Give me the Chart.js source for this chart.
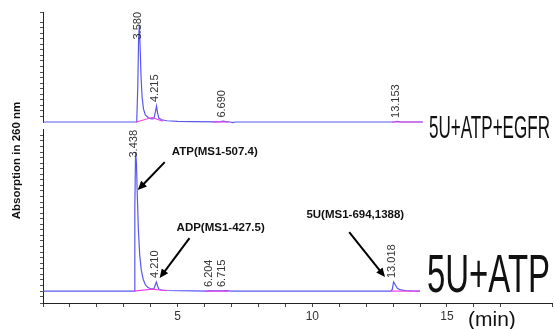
<!DOCTYPE html>
<html>
<head>
<meta charset="utf-8">
<script src="https://cdn.jsdelivr.net/npm/chart.js@4.4.0/dist/chart.umd.min.js"></script>
<style>
html, body { margin: 0; padding: 0; background: #fff; }
</style>
</head>
<body>
<canvas id="myChart" width="554" height="329"></canvas>
<script>
// retention time (min) and signal for the two runs
var egfrTime   = [0, 3.48, 3.52, 3.55, 3.58, 3.61, 3.64, 3.68, 3.73, 3.80, 3.90, 4.02, 4.12, 4.18, 4.215, 4.25, 4.30, 4.40, 4.60, 5.00, 5.60, 6.40, 6.60, 6.69, 6.78, 6.95, 7.05, 7.15, 13.05, 13.15, 13.25, 14.10];
var egfrSignal = [0, 0, 260, 600, 700, 520, 330, 180, 95, 50, 32, 22, 24, 80, 115, 70, 28, 16, 9, 5, 2, 1, 2, 6, 2, 0, -5, 0, 0, 5, 1, 0];

var atpTime   = [0, 3.38, 3.41, 3.438, 3.47, 3.50, 3.54, 3.59, 3.65, 3.72, 3.80, 3.90, 4.02, 4.12, 4.17, 4.21, 4.25, 4.30, 4.40, 4.60, 5.00, 5.60, 6.10, 6.20, 6.30, 6.70, 6.80, 7.00, 12.92, 12.97, 13.018, 13.08, 13.15, 13.25, 13.45, 13.70, 14.00];
var atpSignal = [0, 0, 600, 1000, 920, 700, 450, 260, 150, 85, 45, 25, 15, 16, 45, 65, 40, 14, 7, 4, 2, 1, 0, 3, 1, 1, 3, 0, 0, 12, 65, 45, 22, 10, 4, 1, 0];

// integration baselines (pink), null = break
var egfrBaseTime   = [3.46, 4.05, 4.45, 4.46, 6.30, 6.90, 6.91, 12.95, 14.10];
var egfrBaseSignal = [0, 32, 6, null, 1, 0, null, 0, 0];
var atpBaseTime    = [3.38, 4.05, 4.60, 4.61, 6.00, 6.90, 6.91, 12.90, 14.00];
var atpBaseSignal  = [0, 14, 2, null, 0, 0, null, 0, 0];

// peak labels
var egfrPeaks   = [3.580, 4.215, 6.690, 13.153];
var egfrHeights = [700, 115, 3, 0];
var atpPeaks    = [3.438, 4.210, 6.204, 6.715, 13.018];
var atpHeights  = [1000, 65, 0, 0, 65];

var xTickLabels = [5, 10, 15];

function pts(t, s) {
  return t.map(function (v, i) { return { x: v, y: s[i] }; });
}

var gap = 4;

var notes = {
  id: 'notes',
  afterDraw: function (chart) {
    var c = chart.ctx;
    var xs = chart.scales.x, yt = chart.scales.yTop, yb = chart.scales.y;

    // gap between the two panels on the left axis
    c.save();
    c.fillStyle = '#fff';
    c.fillRect(xs.left - 6, yt.bottom - gap + 1, 8, gap * 2 - 2);
    c.restore();

    function peakLabels(times, heights, ys, topLimit) {
      c.save();
      c.font = '11px "Liberation Sans", Arial, sans-serif';
      c.fillStyle = '#333';
      times.forEach(function (t, i) {
        var txt = t.toFixed(3);
        var w = c.measureText(txt).width;
        var px = xs.getPixelForValue(t) - 1.5;
        var bottom = ys.getPixelForValue(heights[i]) - 4;
        if (bottom - w < topLimit) bottom = topLimit + w;
        c.save();
        c.translate(px, bottom);
        c.rotate(-Math.PI / 2);
        c.textAlign = 'left';
        c.textBaseline = 'middle';
        c.fillText(txt, 0, 0);
        c.restore();
      });
      c.restore();
    }
    peakLabels(egfrPeaks, egfrHeights, yt, yt.top);
    peakLabels(atpPeaks, atpHeights, yb, yb.top + gap);

    function arrow(x1, y1, x2, y2) {
      var a = xs.getPixelForValue(x1), b = yb.getPixelForValue(y1);
      var e = xs.getPixelForValue(x2), f = yb.getPixelForValue(y2);
      var ang = Math.atan2(f - b, e - a);
      c.save();
      c.strokeStyle = '#000';
      c.fillStyle = '#000';
      c.lineWidth = 2;
      c.beginPath();
      c.moveTo(a, b);
      c.lineTo(e - 6 * Math.cos(ang), f - 6 * Math.sin(ang));
      c.stroke();
      c.beginPath();
      c.moveTo(e, f);
      c.lineTo(e - 9 * Math.cos(ang) + 4 * Math.sin(ang), f - 9 * Math.sin(ang) - 4 * Math.cos(ang));
      c.lineTo(e - 9 * Math.cos(ang) - 4 * Math.sin(ang), f - 9 * Math.sin(ang) + 4 * Math.cos(ang));
      c.closePath();
      c.fill();
      c.restore();
    }

    function note(txt, x, y) {
      c.save();
      c.font = 'bold 11.5px "Liberation Sans", Arial, sans-serif';
      c.fillStyle = '#111';
      c.textAlign = 'left';
      c.textBaseline = 'middle';
      c.fillText(txt, xs.getPixelForValue(x), yb.getPixelForValue(y));
      c.restore();
    }

    note('ATP(MS1-507.4)', 4.78, 1000);
    arrow(4.52, 927, 3.52, 726);
    note('ADP(MS1-427.5)', 4.96, 453);
    arrow(5.44, 381, 4.33, 93);
    note('5U(MS1-694,1388)', 9.78, 546);
    arrow(11.37, 424, 12.70, 101);

    function squeeze(txt, left, base, width, size) {
      c.save();
      c.font = size + 'px "Liberation Sans", Arial, sans-serif';
      c.fillStyle = '#111';
      var w = c.measureText(txt).width;
      c.translate(left, base);
      c.scale(width / w, 1);
      c.textAlign = 'left';
      c.textBaseline = 'alphabetic';
      c.fillText(txt, 0, 0);
      c.restore();
    }
    squeeze('5U+ATP+EGFR', 429, yt.getPixelForValue(0) + 16, 121, 32);
    squeeze('5U+ATP', 427, yb.getPixelForValue(0) + 1, 123, 54);

    // axis texts
    c.save();
    c.fillStyle = '#111';
    c.font = '21px "Liberation Sans", Arial, sans-serif';
    c.textAlign = 'left';
    c.textBaseline = 'alphabetic';
    c.fillText('(min)', 468, 326);
    c.font = 'bold 11.5px "Liberation Sans", Arial, sans-serif';
    c.translate(17, (yt.top + yb.bottom) / 2 + 3);
    c.rotate(-Math.PI / 2);
    c.textAlign = 'center';
    c.textBaseline = 'middle';
    c.fillText('Absorption in 260 nm', 0, 0);
    c.restore();
  }
};

var ctx = document.getElementById('myChart');

var myChart = new Chart(ctx, {
  type: 'line',
  data: {
    datasets: [
      { data: pts(egfrBaseTime, egfrBaseSignal), yAxisID: 'yTop', borderColor: '#ee44ee', borderWidth: 1.2, pointRadius: 0, spanGaps: false, order: 1 },
      { data: pts(atpBaseTime, atpBaseSignal), yAxisID: 'y', borderColor: '#ee44ee', borderWidth: 1.2, pointRadius: 0, spanGaps: false, order: 1 },
      { data: pts(egfrTime, egfrSignal), yAxisID: 'yTop', borderColor: '#5858f0', borderWidth: 1.2, pointRadius: 0, order: 2 },
      { data: pts(atpTime, atpSignal), yAxisID: 'y', borderColor: '#5858f0', borderWidth: 1.2, pointRadius: 0, order: 2 }
    ]
  },
  options: {
    responsive: false,
    animation: false,
    layout: { padding: { top: 12, left: 0, right: 0, bottom: 0 } },
    plugins: { legend: { display: false }, tooltip: { enabled: false } },
    scales: {
      x: {
        type: 'linear',
        min: 0,
        max: 18.9,
        ticks: {
          stepSize: 1,
          autoSkip: false,
          maxRotation: 0,
          color: '#333',
          font: { size: 12, family: 'Liberation Sans' },
          padding: 2,
          callback: function (v) { return xTickLabels.indexOf(v) >= 0 ? String(v) : ''; }
        },
        grid: { drawOnChartArea: false, tickLength: 4, tickColor: '#444' },
        border: { color: '#222', width: 1 },
        afterFit: function (s) { s.height = 26; }
      },
      y: {
        type: 'linear',
        position: 'left',
        stack: 'runs',
        stackWeight: 177,
        min: -86,
        max: 1187,
        ticks: { display: false, stepSize: 40 },
        grid: { drawOnChartArea: false, tickLength: 3, tickColor: '#555' },
        border: { color: '#222', width: 1 },
        afterFit: function (s) { s.width = 43; }
      },
      yTop: {
        type: 'linear',
        position: 'left',
        stack: 'runs',
        stackWeight: 114,
        min: -29,
        max: 793,
        ticks: { display: false, stepSize: 40 },
        grid: { drawOnChartArea: false, tickLength: 3, tickColor: '#555' },
        border: { color: '#222', width: 1 },
        afterFit: function (s) { s.width = 43; }
      }
    }
  },
  plugins: [notes]
});
</script>
</body>
</html>
